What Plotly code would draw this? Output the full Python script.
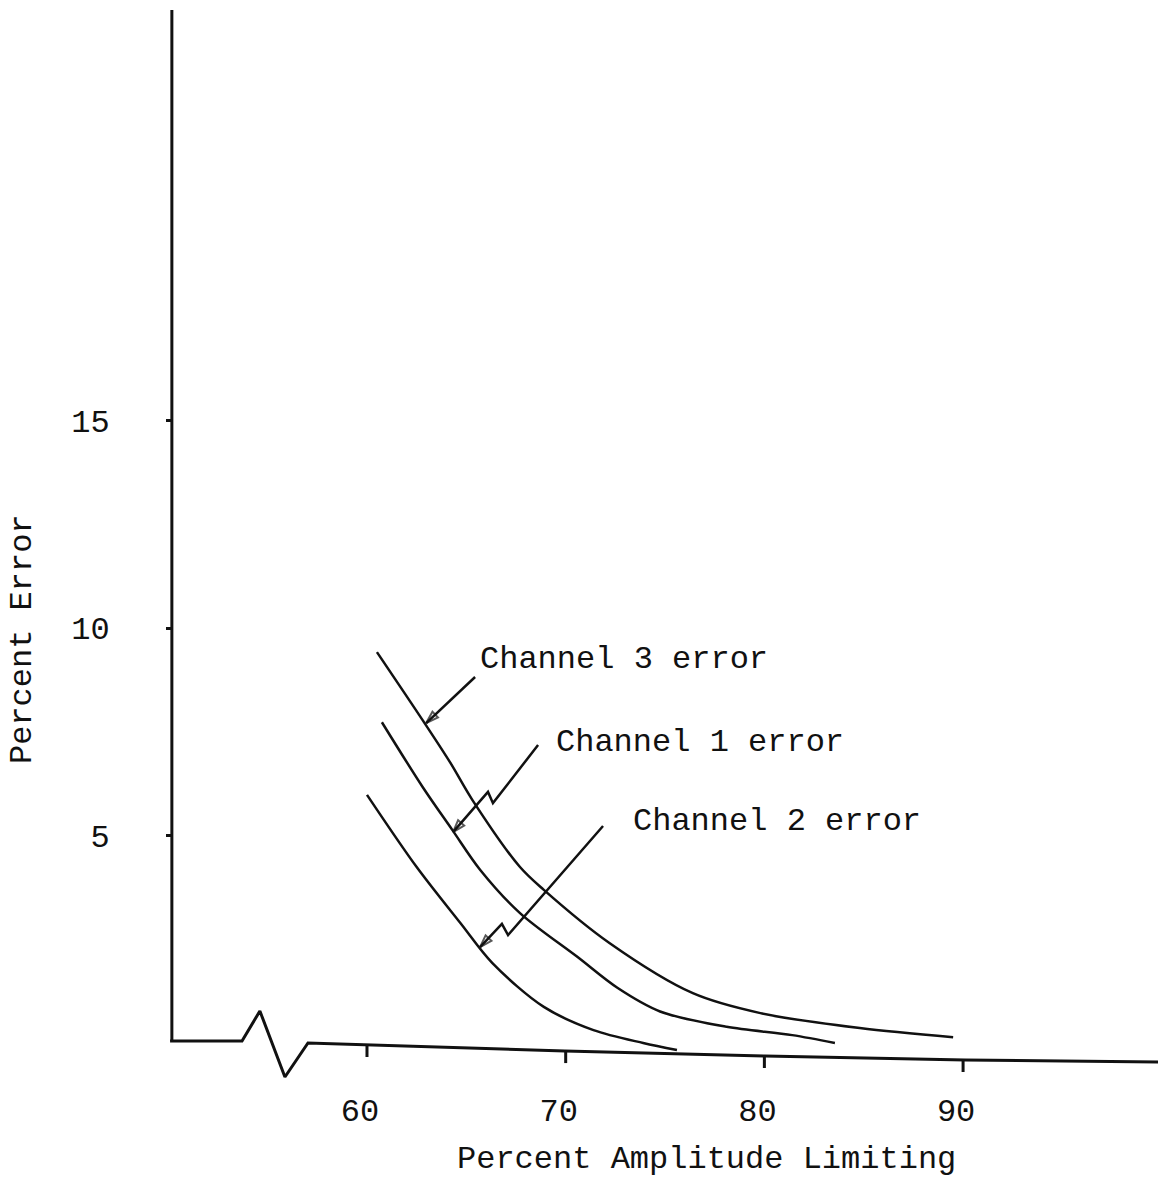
import numpy as np
import plotly.graph_objects as go

# ---- data: percent error vs percent amplitude limiting ----
ch3_limit = [60.5, 62.8, 64.2, 65.3, 67.7, 68.9, 72.2, 76.4, 79.8, 84.8, 89.5]
ch3_error = [9.42, 7.78, 6.75, 5.86, 4.24, 3.69, 2.41, 1.20, 0.72, 0.36, 0.14]

ch1_limit = [60.75, 62.8, 64.3, 65.7, 67.7, 70.6, 72.6, 74.75, 78.1, 81.4, 83.55]
ch1_error = [7.73, 6.17, 5.13, 4.17, 3.13, 2.07, 1.33, 0.76, 0.39, 0.19, 0.00]

ch2_limit = [60.0, 62.5, 64.7, 66.3, 68.9, 71.4, 73.9, 75.6]
ch2_error = [5.98, 4.24, 2.89, 1.93, 0.87, 0.31, 0.00, -0.17]

x_ticks = [60, 70, 80, 90]
x_tick_labels = ["60", "70", "80", "90"]
y_ticks = [5, 10, 15]
y_tick_labels = ["5", "10", "15"]

# hand-ruled baseline with a scale break near the origin
axis_x = [50.09, 53.71, 54.61, 55.87, 57.03, 60.0, 69.96, 80.03, 90.10, 99.81]
axis_y = [0.048, 0.048, 0.771, -0.819, 0.0, -0.048, -0.193, -0.313, -0.41, -0.458]

# vertical axis
yaxis_x = 50.18
yaxis_top = 24.89

# leader arrows from each label to its curve
lead3_x = [65.44, 62.98]
lead3_y = [8.82, 7.71]
lead1_x = [68.61, 66.34, 66.09, 64.33]
lead1_y = [7.18, 5.78, 6.05, 5.08]
lead2_x = [71.88, 67.10, 66.79, 65.69]
lead2_y = [5.23, 2.60, 2.87, 2.31]

labels = ["Channel 3 error", "Channel 1 error", "Channel 2 error"]
label_x = [65.6, 69.4, 73.3]
label_y = [9.23, 7.25, 5.33]

FONT = "Liberation Mono, Courier New, monospace"
INK = "#111111"

fig = go.Figure()

for xs, ys in [(ch3_limit, ch3_error), (ch1_limit, ch1_error), (ch2_limit, ch2_error)]:
    fig.add_trace(go.Scatter(x=xs, y=ys, mode="lines",
                             line=dict(color=INK, width=2.5, shape="spline", smoothing=0.9),
                             hoverinfo="skip"))

# axes drawn as strokes
fig.add_trace(go.Scatter(x=axis_x, y=axis_y, mode="lines",
                         line=dict(color=INK, width=3), hoverinfo="skip"))
fig.add_trace(go.Scatter(x=[yaxis_x, yaxis_x], y=[axis_y[0], yaxis_top], mode="lines",
                         line=dict(color=INK, width=3), hoverinfo="skip"))

# x tick marks hanging below the sloped baseline
tx, ty = [], []
for t in x_ticks:
    b = float(np.interp(t, axis_x, axis_y))
    tx += [t, t, None]
    ty += [b, b - 0.29, None]
fig.add_trace(go.Scatter(x=tx, y=ty, mode="lines",
                         line=dict(color=INK, width=3), hoverinfo="skip"))

# leaders with arrowheads
for xs, ys in [(lead3_x, lead3_y), (lead1_x, lead1_y), (lead2_x, lead2_y)]:
    sizes = [0] * (len(xs) - 1) + [13]
    fig.add_trace(go.Scatter(x=xs, y=ys, mode="lines+markers",
                             line=dict(color=INK, width=2.5),
                             marker=dict(symbol="arrow-open", size=sizes, angleref="previous",
                                         color=INK, line=dict(color=INK, width=2)),
                             hoverinfo="skip"))

for txt, lx, ly in zip(labels, label_x, label_y):
    fig.add_annotation(x=lx, y=ly, text=txt, showarrow=False, xanchor="left", yanchor="middle",
                       font=dict(family=FONT, size=32, color=INK))

fig.add_annotation(xref="paper", yref="paper", x=22 / 1158, y=1 - 639 / 1179,
                   text="Percent Error", textangle=-90, showarrow=False,
                   xanchor="center", yanchor="middle",
                   font=dict(family=FONT, size=32, color=INK))
fig.add_annotation(xref="paper", yref="paper", x=706 / 1158, y=1 - 1159 / 1179,
                   text="Percent Amplitude Limiting", showarrow=False,
                   xanchor="center", yanchor="middle",
                   font=dict(family=FONT, size=32, color=INK))

fig.update_layout(
    width=1158, height=1179,
    margin=dict(l=0, r=0, t=0, b=0),
    paper_bgcolor="white", plot_bgcolor="white",
    showlegend=False,
    xaxis=dict(range=[41.53, 99.81], domain=[0, 1], showgrid=False, zeroline=False,
               showline=False, ticks="", tickvals=x_ticks, ticktext=x_tick_labels,
               anchor="free", position=1 - 1088 / 1179, ticklabelshift=-7,
               tickfont=dict(family=FONT, size=32, color=INK)),
    yaxis=dict(range=[-3.277, 25.133], domain=[0, 1], showgrid=False, zeroline=False,
               showline=False, ticks="outside", ticklen=7, tickwidth=2.5, tickcolor=INK,
               tickvals=y_ticks, ticktext=y_tick_labels,
               anchor="free", position=173 / 1158, ticklabelstandoff=50,
               tickfont=dict(family=FONT, size=32, color=INK)),
)

fig.write_html("out.html")
